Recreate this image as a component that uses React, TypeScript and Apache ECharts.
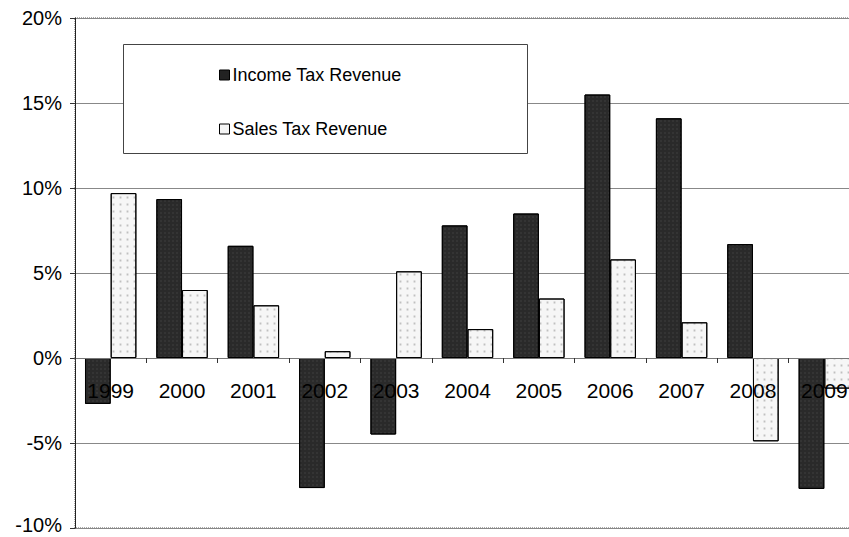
import React, { useEffect, useRef } from "react";
import * as echarts from "echarts";

const years = ["1999", "2000", "2001", "2002", "2003", "2004", "2005", "2006", "2007", "2008", "2009"];
const incomeTax = [-2.7, 9.35, 6.6, -7.65, -4.5, 7.8, 8.5, 15.5, 14.1, 6.7, -7.7];
const salesTax = [9.7, 4.0, 3.1, 0.4, 5.1, 1.7, 3.5, 5.8, 2.1, -4.9, -1.8];
const yTicks = { min: -10, max: 20, interval: 5 };

const FONT = "'Liberation Sans', Arial, sans-serif";
const GRID_TOP = 18;
const GRID_BOTTOM = 9;
const CHART_H = 537;

export default function App() {
  const ref = useRef<HTMLDivElement>(null);
  useEffect(() => {
    if (!ref.current) return;
    const chart = echarts.init(ref.current, null, { renderer: "svg" });
    const plotH = CHART_H - GRID_TOP - GRID_BOTTOM;
    const zeroOffset = -plotH * (0 - yTicks.min) / (yTicks.max - yTicks.min);
    chart.setOption({
      animation: false,
      backgroundColor: "#fff",
      textStyle: { fontFamily: FONT },
      grid: {
        left: 75,
        top: GRID_TOP,
        right: -11,
        bottom: GRID_BOTTOM,
        containLabel: false,
        outerBoundsMode: "none",
        show: true,
        borderColor: "#555",
        borderWidth: 1,
        borderType: "dotted",
        backgroundColor: "transparent",
      },
      legend: {
        orient: "vertical",
        left: 214,
        top: 59,
        itemWidth: 10,
        itemHeight: 10,
        itemGap: 32,
        icon: "rect",
        data: [
          { name: "Income Tax Revenue", itemStyle: { color: "#222", borderColor: "#000", borderWidth: 1, decal: "none" } },
          { name: "Sales Tax Revenue", itemStyle: { color: "#f4f4f4", borderColor: "#000", borderWidth: 1, decal: "none" } },
        ],
        textStyle: { fontFamily: FONT, fontSize: 18, color: "#000", lineHeight: 22, padding: [0, 0, 0, -2] },
        selectedMode: false,
        z: 10,
      },
      graphic: [
        {
          type: "rect",
          z: 5,
          shape: { x: 123.5, y: 44.5, width: 404, height: 109 },
          style: { fill: "#fff", stroke: "#444", lineWidth: 1 },
        },
      ],
      xAxis: {
        type: "category",
        data: years,
        position: "bottom",
        offset: zeroOffset,
        z: 3,
        axisLine: { onZero: false, lineStyle: { color: "#777", width: 1 } },
        axisTick: { show: true, length: 5, inside: false, lineStyle: { color: "#333" } },
        axisLabel: { margin: 22, fontSize: 21, color: "#000", fontFamily: FONT },
        splitLine: { show: false },
      },
      yAxis: {
        type: "value",
        min: yTicks.min,
        max: yTicks.max,
        interval: yTicks.interval,
        axisLine: { show: true, lineStyle: { color: "#222", width: 1 } },
        axisTick: { show: true, length: 5, lineStyle: { color: "#333" } },
        axisLabel: {
          formatter: (v: number) => (v === yTicks.min ? `{low|${v}%}` : `${v}%`),
          rich: { low: { fontSize: 20, fontFamily: FONT, color: "#000", padding: [0, 0, 6, 0] } },
          fontSize: 20,
          lineHeight: 18,
          color: "#000",
          margin: 13,
          fontFamily: FONT,
        },
        splitLine: { show: true, lineStyle: { color: "#888", width: 1 } },
      },
      series: [
        {
          name: "Income Tax Revenue",
          type: "bar",
          data: incomeTax,
          barGap: "0%",
          barCategoryGap: "28%",
          itemStyle: {
            color: "#2a2a2a",
            borderColor: "#000",
            borderWidth: 1,
            decal: { symbol: "rect", symbolSize: 0.5, color: "rgba(255,255,255,0.18)", dashArrayX: [2, 2], dashArrayY: [2, 2], rotation: 0 },
          },
        },
        {
          name: "Sales Tax Revenue",
          type: "bar",
          data: salesTax,
          barGap: "0%",
          barCategoryGap: "28%",
          itemStyle: {
            color: "#f6f6f6",
            borderColor: "#000",
            borderWidth: 1,
            decal: { symbol: "rect", symbolSize: 0.6, color: "rgba(0,0,0,0.22)", dashArrayX: [3, 4], dashArrayY: [3, 4], rotation: 0 },
          },
        },
      ],
    });
    return () => chart.dispose();
  }, []);
  return <div ref={ref} style={{ width: 849, height: CHART_H, position: "absolute", left: 0, top: 0 }} />;
}
